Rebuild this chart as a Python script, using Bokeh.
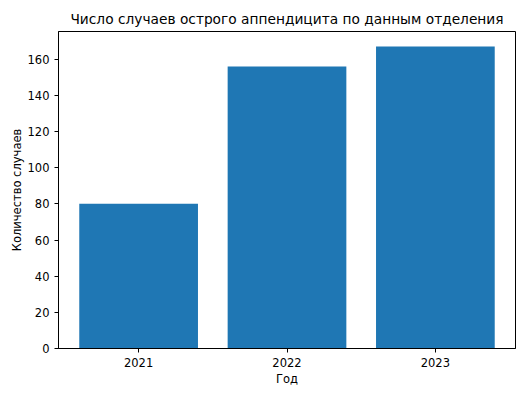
from bokeh.plotting import figure
from bokeh.embed import file_html
from bokeh.resources import INLINE
from bokeh.models import FixedTicker, Range1d

years = [2021, 2022, 2023]
cases = [80, 156, 167]
y_ticks = [0, 20, 40, 60, 80, 100, 120, 140, 160]

FONT = "DejaVu Sans"

p = figure(width=528, height=396, output_backend="svg", toolbar_location=None,
           title="Число случаев острого аппендицита по данным отделения",
           x_range=Range1d(2020.46, 2023.54), y_range=Range1d(0, 175.35),
           min_border_left=58, min_border_right=13, min_border_top=31, min_border_bottom=48)
p.frame_width = 457
p.frame_height = 317

p.vbar(x=years, top=cases, width=0.8, color="#1f77b4", line_color=None)

p.title.text_font = FONT
p.title.text_font_size = "13.75px"
p.title.text_font_style = "normal"
p.title.align = "center"
p.title.text_color = "black"

p.xgrid.visible = False
p.ygrid.visible = False
p.outline_line_color = "black"
p.outline_line_width = 1

p.xaxis.ticker = FixedTicker(ticks=years)
p.yaxis.ticker = FixedTicker(ticks=y_ticks)
p.xaxis.axis_label = "Год"
p.yaxis.axis_label = "Количество случаев"
for ax in (p.xaxis, p.yaxis):
    ax.axis_label_text_font = FONT
    ax.axis_label_text_font_size = "11.5px"
    ax.axis_label_text_font_style = "normal"
    ax.axis_label_text_color = "black"
    ax.major_label_text_font = FONT
    ax.major_label_text_font_size = "11.5px"
    ax.major_label_text_color = "black"
    ax.minor_tick_line_color = None
    ax.major_tick_out = 4
    ax.major_tick_in = 0
    ax.axis_line_color = "black"
    ax.major_tick_line_color = "black"
p.xaxis.axis_label_standoff = 2
p.yaxis.axis_label_standoff = 1
p.yaxis.major_label_orientation = "horizontal"

open("out.html", "w").write(file_html(p, INLINE))
